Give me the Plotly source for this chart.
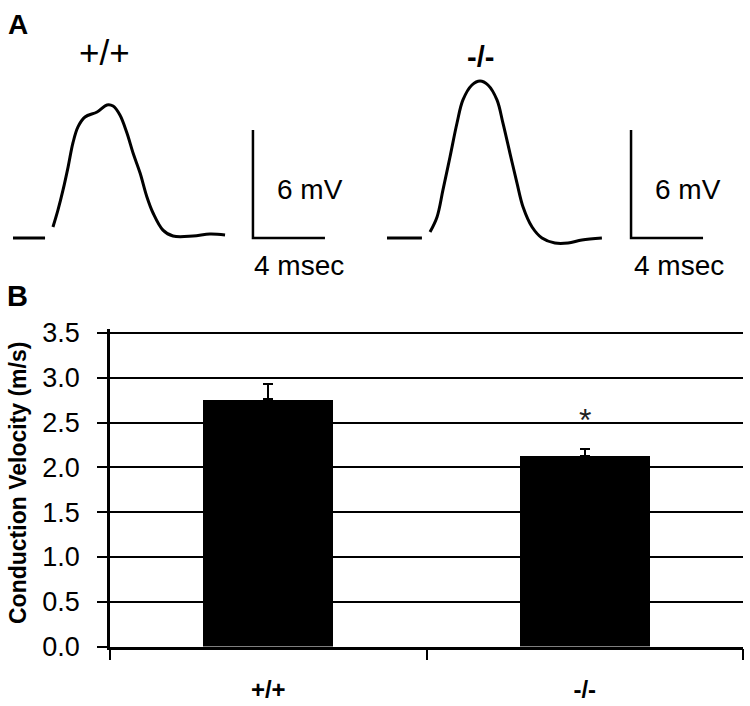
import plotly.graph_objects as go

# ---------------- Panel A data (time in ms, voltage in mV) ----------------
wt_base_t = [0.0, 1.78]
wt_base_v = [0.0, 0.0]
wt_t = [2.22, 2.5, 2.78, 3.06, 3.33, 3.61, 4.0, 4.67, 5.22, 5.56, 5.94, 6.33,
        6.67, 7.06, 7.44, 7.78, 8.33, 8.89, 10.0, 10.94, 11.78]
wt_v = [0.61, 1.56, 2.67, 3.94, 5.28, 6.17, 6.72, 7.0, 7.39, 7.33, 6.83, 5.83,
        4.72, 3.61, 2.28, 1.39, 0.44, 0.11, 0.11, 0.22, 0.17]

ko_base_t = [0.0, 1.94]
ko_base_v = [0.0, 0.0]
ko_t = [2.39, 2.78, 3.11, 3.5, 3.89, 4.22, 4.72, 5.17, 5.61, 6.11, 6.44, 6.83,
        7.22, 7.56, 8.06, 8.61, 9.33, 10.06, 10.83, 11.94]
ko_v = [0.33, 1.17, 2.67, 4.5, 6.39, 7.67, 8.5, 8.72, 8.5, 7.67, 6.39, 4.72,
        3.06, 1.72, 0.61, 0.0, -0.28, -0.28, -0.11, 0.0]

scalebar_ms = 4
scalebar_mv = 6
panel_a_labels = ["+/+", "-/-"]

# ---------------- Panel B data ----------------
genotypes = ["+/+", "-/-"]
velocity = [2.76, 2.13]
velocity_err = [0.17, 0.07]
significance = ["", "*"]
y_ticks = [0.0, 0.5, 1.0, 1.5, 2.0, 2.5, 3.0, 3.5]
y_tick_labels = [f"{v:.1f}" for v in y_ticks]

FONT = "Arial, Liberation Sans, sans-serif"
W, H = 750, 706

fig = go.Figure()

# Panel A traces
line_style = dict(color="black", width=3)
fig.add_trace(go.Scatter(x=wt_base_t, y=wt_base_v, mode="lines", line=line_style,
                         xaxis="x2", yaxis="y2", showlegend=False, hoverinfo="skip"))
fig.add_trace(go.Scatter(x=wt_t, y=wt_v, mode="lines", line=dict(color="black", width=3, shape="spline"),
                         xaxis="x2", yaxis="y2", showlegend=False))
fig.add_trace(go.Scatter(x=ko_base_t, y=ko_base_v, mode="lines", line=line_style,
                         xaxis="x3", yaxis="y3", showlegend=False, hoverinfo="skip"))
fig.add_trace(go.Scatter(x=ko_t, y=ko_v, mode="lines", line=dict(color="black", width=3, shape="spline"),
                         xaxis="x3", yaxis="y3", showlegend=False))

# scale bars
bar_pos = {"x2": 13.33, "x3": 13.56}
for xa, ya in (("x2", "y2"), ("x3", "y3")):
    x0 = bar_pos[xa]
    fig.add_trace(go.Scatter(x=[x0, x0, x0 + scalebar_ms], y=[scalebar_mv, 0, 0], mode="lines",
                             line=dict(color="black", width=2.5), xaxis=xa, yaxis=ya,
                             showlegend=False, hoverinfo="skip"))

# Panel B bars
fig.add_trace(go.Bar(x=genotypes, y=velocity, width=0.41, marker=dict(color="black", line=dict(width=0)),
                     error_y=dict(type="data", array=velocity_err, arrayminus=[0, 0], symmetric=False,
                                  color="black", thickness=2, width=5),
                     showlegend=False))

ann = []
# panel letters (pixel positions converted to paper)
ann.append(dict(text="<b>A</b>", x=6 / W, y=(H - 24) / H, xref="paper", yref="paper", showarrow=False,
                font=dict(family=FONT, size=28, color="black"), xanchor="left", yanchor="middle"))
ann.append(dict(text="<b>B</b>", x=5 / W, y=(H - 296) / H, xref="paper", yref="paper", showarrow=False,
                font=dict(family=FONT, size=29, color="black"), xanchor="left", yanchor="middle"))

# Panel A labels
title_pos = {"x2": (5.06, 10.28, False), "x3": (5.22, 10.06, True)}
mv_pos = {"x2": 14.56, "x3": 14.78}
ms_pos = {"x2": 13.28, "x3": 13.61}
for lab, (xa, ya) in zip(panel_a_labels, (("x2", "y2"), ("x3", "y3"))):
    tx, ty, bold = title_pos[xa]
    ann.append(dict(text=f"<b>{lab}</b>" if bold else lab, x=tx, y=ty, xref=xa, yref=ya, showarrow=False,
                    font=dict(family=FONT, size=35 if not bold else 29, color="black"),
                    xanchor="center", yanchor="middle"))
    ann.append(dict(text=f"{scalebar_mv} mV", x=mv_pos[xa], y=2.67, xref=xa, yref=ya, showarrow=False,
                    font=dict(family=FONT, size=28, color="black"), xanchor="left", yanchor="middle"))
    ann.append(dict(text=f"{scalebar_ms} msec", x=ms_pos[xa], y=-1.5, xref=xa, yref=ya, showarrow=False,
                    font=dict(family=FONT, size=28, color="black"), xanchor="left", yanchor="middle"))

# significance marks
for g, v, e, s in zip(genotypes, velocity, velocity_err, significance):
    if s:
        ann.append(dict(text=s, x=g, y=2.62, xref="x", yref="y", showarrow=False,
                        font=dict(family=FONT, size=32, color="#222"), xanchor="center", yanchor="middle",
                        yshift=-8))

# y axis title
ann.append(dict(text="<b>Conduction Velocity (m/s)</b>", x=18 / W, y=(H - 483) / H, xref="paper", yref="paper",
                showarrow=False, textangle=-90, font=dict(family=FONT, size=23, color="black"),
                xanchor="center", yanchor="middle"))

A_BOTTOM = 0.56  # panel A domain bottom (paper), kept well clear of panel B
a_y_range = [(238 - (1 - A_BOTTOM) * H) / 18, 238 / 18]

# panel B y axis: 0 at 646.5 px, 3.5 at 333 px; range padded slightly
Y0_PX, Y35_PX = 646.5, 333.0
px_per_unit = (Y0_PX - Y35_PX) / 3.5
Y_TOP = 3.55
top_px = Y0_PX - Y_TOP * px_per_unit

# top gridline drawn explicitly at the last tick value
shapes = [dict(type="line", xref="paper", x0=100 / W, x1=743 / W, yref="y", y0=y_ticks[-1], y1=y_ticks[-1],
               line=dict(color="black", width=2), layer="above")]

fig.update_layout(
    width=W, height=H,
    margin=dict(l=0, r=0, t=0, b=0, autoexpand=False),
    paper_bgcolor="white", plot_bgcolor="white",
    font=dict(family=FONT, color="black"),
    bargap=0,
    annotations=ann,
    shapes=shapes,
    xaxis=dict(domain=[110 / W, 743 / W], type="category", tickson="boundaries",
               showline=True, linecolor="black", linewidth=2.5,
               ticks="outside", ticklen=11, tickwidth=2, tickcolor="black",
               showgrid=False, zeroline=False, range=[-0.5, 1.5], automargin=False,
               tickfont=dict(family=FONT, size=24, color="black", weight="bold"),
               ticklabelstandoff=20),
    yaxis=dict(domain=[(H - Y0_PX) / H, (H - top_px) / H], range=[0, Y_TOP],
               tickvals=y_ticks, ticktext=y_tick_labels, automargin=False,
               showline=True, linecolor="black", linewidth=2.5,
               ticks="outside", ticklen=10, tickwidth=2, tickcolor="black",
               showgrid=True, gridcolor="black", gridwidth=2, zeroline=False,
               tickfont=dict(family=FONT, size=27, color="black"),
               ticklabelstandoff=12),
    xaxis2=dict(domain=[0, 0.5], range=[-0.722, 20.11], visible=False, anchor="y2", automargin=False),
    yaxis2=dict(domain=[A_BOTTOM, 1], range=a_y_range, visible=False, anchor="x2", automargin=False),
    xaxis3=dict(domain=[0.5, 1], range=[-0.667, 20.17], visible=False, anchor="y3", automargin=False),
    yaxis3=dict(domain=[A_BOTTOM, 1], range=a_y_range, visible=False, anchor="x3", automargin=False),
)

fig.write_html("out.html", config={"displayModeBar": False},
               post_script="document.body.style.margin='0';document.body.style.overflow='hidden';")
